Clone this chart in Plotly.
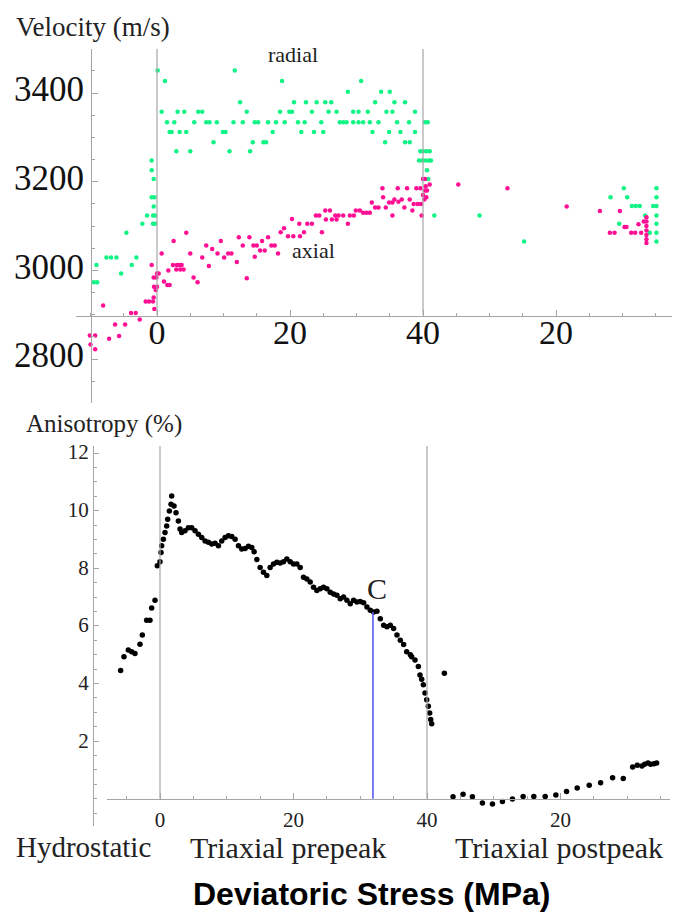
import plotly.graph_objects as go

# ---------------- DATA ----------------
# Stress coordinate: hydrostatic (<0), triaxial prepeak (0..40), postpeak (>40, continues to the right)
radial_x = [-9.5, -9.0, -9.1, -7.6, -6.9, -6.1, -5.4, -4.6, -3.8, -3.1, -2.2, -1.5, -0.6, -0.3, -0.6, -0.3,
            -0.5, -0.8, -0.4, -0.5, -0.8, -0.8,
            0.1, 1.2, 0.7, 1.5, 2.6, 3.1, 4.1, 1.9, 2.2, 3.4, 4.4, 2.9, 5.0, 5.6, 6.2, 6.8, 7.4, 7.9, 9.0, 8.5,
            9.9, 10.3, 10.9, 11.7, 12.5, 11.5, 12.9, 13.5,
            18.8, 30.7,
            28.7, 33.7, 35.0,
            20.6, 22.4, 24.0, 25.3, 26.2, 32.8, 35.7, 37.3,
            18.5, 19.9, 20.3, 23.3, 25.8, 27.0, 29.5, 30.3, 31.7, 34.5, 35.4, 38.8,
            14.7, 15.2, 16.7, 17.9, 19.2, 21.2, 22.2, 24.7, 27.5, 28.0, 28.5, 29.5, 30.3, 31.0, 32.0, 33.3,
            36.1, 37.9, 40.3, 40.7,
            14.4, 16.0, 16.4, 34.3, 37.3, 38.0,
            17.4, 21.7, 23.6, 25.0, 32.4, 34.9, 36.6, 38.8,
            14.0, 39.6, 40.0, 40.5, 41.0,
            39.4, 39.9, 40.4, 40.9, 41.2,
            40.6, 40.8,
            41.7, 48.5, 55.2, 68.2, 70.2, 70.7, 71.4, 72.0, 72.6, 73.4, 69.5, 74.1, 74.6,
            75.1, 75.1, 75.1, 75.1, 75.1, 75.1, 75.1]
radial_v = [2973, 2973, 3012, 3029, 3029, 3029, 2993, 3085, 3012, 3029, 3105, 3124, 3105, 3105, 3124, 3124,
            3144, 3165, 3165, 3206, 3226, 3248,
            3451, 3427, 3358, 3334, 3334, 3358, 3358, 3312, 3312, 3312, 3312, 3269, 3269, 3334, 3358, 3358, 3334, 3334, 3334, 3289,
            3312, 3312, 3269, 3451, 3379, 3334, 3334, 3358,
            3427, 3427,
            3403, 3403, 3403,
            3379, 3379, 3379, 3379, 3379, 3379, 3379, 3379,
            3358, 3358, 3358, 3358, 3358, 3358, 3358, 3358, 3358, 3358, 3358, 3358,
            3334, 3334, 3334, 3334, 3334, 3334, 3334, 3334, 3334, 3334, 3334, 3334, 3334, 3334, 3334, 3334,
            3334, 3334, 3334, 3334,
            3289, 3289, 3289, 3289, 3289, 3289,
            3312, 3312, 3312, 3312, 3312, 3312, 3312, 3312,
            3269, 3269, 3269, 3269, 3269,
            3248, 3248, 3248, 3248, 3248,
            3226, 3206,
            3124, 3124, 3065, 3165, 3185, 3165, 3145, 3145, 3145, 3124, 3105, 3085, 3145,
            3185, 3165, 3145, 3124, 3105, 3085, 3065]

axial_x = [-10.1, -9.3, -10.0, -9.3, -8.1, -7.2, -6.3, -5.7, -4.8, -3.9, -3.2, -2.6, -0.8, -1.7, -1.2, -0.6,
           -0.5, -0.4, -0.45, 0.0, -0.5, -0.1, -0.2, 0.0, 0.25,
           0.7, 1.05, 1.55, 1.9, 1.7, 2.5, 2.4, 3.0, 3.4, 3.7, 2.9, 3.5, 4.0, 4.4, 5.0, 5.5, 6.1, 6.8, 7.4, 7.8,
           8.3, 9.1, 9.6, 10.1, 10.7, 11.2, 12.0, 12.3, 12.9, 13.5, 13.9, 14.5, 15.0, 14.7, 15.5, 16.2, 15.8,
           16.7, 17.2, 17.7, 18.2, 18.6, 19.1, 19.7, 20.5, 21.5, 20.3, 21.4, 22.1, 22.6, 23.3, 23.9, 24.4, 24.8,
           25.3, 26.0, 25.4, 26.3, 26.8, 27.3, 28.0, 27.0, 28.7, 29.0, 29.6, 29.9, 30.5, 31.0, 31.5, 32.0, 32.3,
           32.8, 33.3, 33.9, 34.0, 34.4, 34.9, 35.4, 35.4, 36.2, 35.7, 36.3, 36.8, 37.2, 37.6, 38.0, 38.6, 38.4,
           39.0, 39.6, 39.2, 39.7, 39.8, 40.3, 40.3, 40.6, 41.0, 40.0, 40.4, 40.0, 40.2, 40.5,
           45.3, 52.7, 61.6, 66.6, 69.6, 70.3, 70.6, 68.1, 68.8, 71.3, 71.9, 72.8, 72.4, 73.2,
           73.6, 73.6, 73.6, 73.6, 73.6, 73.6, 73.6]
axial_v = [2853, 2853, 2833, 2822, 2921, 2846, 2878, 2852, 2878, 2904, 2904, 2889, 3012, 2930, 2930, 2930,
           2939, 2913, 2963, 2963, 2984, 2984, 2956, 2993, 2993,
           3038, 2975, 2967, 2967, 3000, 3066, 3012, 3012, 3012, 3012, 3002, 3002, 3002, 3085, 3038, 2984, 2973, 3029, 3056, 3010,
           3048, 3038, 3066, 3029, 3038, 3038, 3019, 3075, 3056, 2982, 3075, 3056, 3056, 3031, 3045, 3045, 3066,
           3075, 3056, 3056, 3038, 3086, 3095, 3077, 3077, 3077, 3116, 3105, 3086, 3105, 3105, 3124, 3124, 3086,
           3135, 3135, 3115, 3115, 3124, 3124, 3124, 3115, 3105, 3124, 3124, 3135, 3135, 3130, 3130, 3130, 3153,
           3142, 3142, 3185, 3165, 3142, 3153, 3153, 3124, 3185, 3160, 3155, 3160, 3142, 3185, 3160, 3150, 3135,
           3185, 3185, 3150, 3150, 3124, 3206, 3180, 3180, 3194, 3206, 3190, 3170, 3160, 3165,
           3194, 3185, 3144, 3134, 3134, 3098, 3098, 3085, 3085, 3085, 3085, 3085, 3104, 3110,
           3120, 3110, 3100, 3090, 3080, 3070, 3062]

aniso_x = [-5.9, -5.4, -4.75, -4.25, -3.75, -3.0, -2.65, -2.0, -1.5, -1.25, -0.75, -0.4, 0.0, 0.15, 0.25,
           0.5, 0.75, 1.0, 1.15, 1.4, 1.65, 1.75, 2.1, 2.4, 2.75, 3.0, 3.25,
           3.75, 4.25, 4.75, 5.25, 5.75, 6.25, 6.75, 7.25, 7.75, 8.25, 8.75, 9.25, 9.75, 10.25, 10.75, 11.25,
           11.75, 12.25, 12.75, 13.25, 13.75, 14.1, 14.5, 15.0, 15.5, 16.0, 16.5, 17.0, 17.5, 18.0, 18.5, 19.0,
           19.5, 20.0, 20.5, 21.0, 21.5, 22.0, 22.5, 23.0, 23.5, 24.0, 24.5, 25.0, 25.5, 26.0, 26.5, 27.0, 27.5,
           28.0, 28.5, 29.0, 29.5, 30.0, 30.5, 31.0, 31.5, 32.0, 32.5, 33.0, 33.5, 34.0, 34.5, 35.0, 35.5,
           36.0, 36.5, 36.95, 37.5, 37.7, 38.2, 38.7, 38.95, 39.2, 39.45, 39.7, 39.95, 40.2, 40.4, 40.55, 40.7,
           42.6,
           43.9, 45.4, 46.8, 48.3, 49.8, 51.3, 52.8, 54.4, 56.0, 57.7, 59.3, 60.9, 62.5, 64.3, 66.0, 67.8, 69.4,
           70.8, 71.5, 72.2, 72.6, 73.1, 73.5, 74.0, 74.4]
aniso_v = [4.45, 4.93, 5.16, 5.10, 5.04, 5.36, 5.68, 6.2, 6.2, 6.62, 6.89, 8.09, 8.23, 8.55, 8.78,
           9.01, 9.24, 9.47, 9.7, 9.99, 10.22, 10.51, 10.16, 9.93, 9.64, 9.36, 9.24,
           9.30, 9.41, 9.41, 9.30, 9.18, 9.07, 8.95, 8.90, 8.84, 8.87, 8.78, 8.95, 9.07, 9.13, 9.10, 9.01,
           8.78, 8.67, 8.69, 8.76, 8.72, 8.57, 8.30, 8.03, 7.86, 7.75, 8.03, 8.15, 8.21, 8.18, 8.23, 8.32,
           8.23, 8.15, 8.15, 8.03, 7.69, 7.63, 7.52, 7.34, 7.23, 7.29, 7.34, 7.29, 7.17, 7.11, 7.06, 6.94, 7.00,
           6.89, 6.77, 6.89, 6.83, 6.85, 6.80, 6.66, 6.54, 6.48, 6.51, 6.25, 6.02, 5.97, 6.02, 5.91, 5.68,
           5.50, 5.35, 5.10, 5.00, 4.93, 4.82, 4.59, 4.30, 4.15, 3.96, 3.67, 3.44, 3.21, 2.98, 2.75, 2.60,
           4.36,
           0.07, 0.16, 0.07, -0.15, -0.18, -0.09, -0.01, 0.08, 0.08, 0.08, 0.13, 0.25, 0.37, 0.47, 0.56, 0.73, 0.70,
           1.10, 1.16, 1.14, 1.20, 1.24, 1.20, 1.22, 1.24]

stage_bounds = [0, 40]            # hydrostatic/prepeak and prepeak/postpeak boundaries
point_c = (31.9, 6.48)            # stress and anisotropy at point C

x_tickvals = [0, 20, 40, 60]
x_ticktext = ["0", "20", "40", "20"]
vel_tickvals = [2800, 3000, 3200, 3400]
ani_tickvals = [2, 4, 6, 8, 10, 12]

GREEN = "#12F386"
PINK = "#FF0F93"
AX = "#A6A6A6"
SERIF = "Liberation Serif"

fig = go.Figure()
fig.add_trace(go.Scatter(x=radial_x, y=radial_v, mode="markers", xaxis="x", yaxis="y",
                         marker=dict(color=GREEN, size=4.5), name="radial"))
fig.add_trace(go.Scatter(x=axial_x, y=axial_v, mode="markers", xaxis="x", yaxis="y",
                         marker=dict(color=PINK, size=4.5), name="axial"))
fig.add_trace(go.Scatter(x=aniso_x, y=aniso_v, mode="markers", xaxis="x2", yaxis="y2",
                         marker=dict(color="black", size=5.5), name="anisotropy"))

W, H = 676, 913
common_x = dict(showgrid=False, zeroline=False, showline=True, linecolor=AX, linewidth=1,
                ticks="inside", tickcolor=AX, tickmode="array", tickvals=x_tickvals, ticktext=x_ticktext,
                ticklen=6)

fig.update_layout(
    width=W, height=H, margin=dict(l=0, r=0, t=0, b=0),
    paper_bgcolor="white", plot_bgcolor="rgba(0,0,0,0)", showlegend=False,
    xaxis=dict(**common_x, domain=[76 / W, 672 / W], range=[-12.18, 77.44], anchor="free",
               position=1 - 311.7 / H, tickfont=dict(family=SERIF, size=34, color="#111"),
               ticklabelstandoff=-13,
               minor=dict(dtick=5, tick0=0, ticks="inside", ticklen=3, tickcolor=AX)),
    yaxis=dict(showgrid=False, zeroline=False, showline=True, linecolor=AX, linewidth=1,
               domain=[1 - 400 / H, 1 - 43 / H], range=[2700, 3500], anchor="free", position=91 / W,
               ticks="inside", tickcolor=AX, ticklen=6, tickmode="array", tickvals=vel_tickvals,
               tickfont=dict(family=SERIF, size=35, color="#111"), ticklabelshift=-4,
               minor=dict(dtick=50, tick0=0, ticks="inside", ticklen=3, tickcolor=AX)),
    xaxis2=dict(**common_x, domain=[107 / W, 670 / W], range=[-7.94, 76.4], anchor="free",
                position=1 - 798 / H, tickfont=dict(family=SERIF, size=21, color="#222"),
                ticklabelstandoff=2,
                minor=dict(dtick=5, tick0=0, ticks="inside", ticklen=3, tickcolor=AX)),
    yaxis2=dict(showgrid=False, zeroline=False, showline=True, linecolor=AX, linewidth=1,
                domain=[1 - 825 / H, 1 - 443 / H], range=[-0.93, 12.24], anchor="free", position=93 / W,
                ticks="inside", tickcolor=AX, ticklen=5, tickmode="array", tickvals=ani_tickvals,
                tickfont=dict(family=SERIF, size=21, color="#222"), ticklabelshift=-1,
                minor=dict(dtick=0.5, tick0=0, ticks="inside", ticklen=3, tickcolor=AX)),
)

shapes = []
for b in stage_bounds:
    shapes.append(dict(type="line", xref="x", yref="y", x0=b, x1=b, y0=2900, y1=3500,
                       line=dict(color=AX, width=1.2)))
    shapes.append(dict(type="line", xref="x2", yref="y2", x0=b, x1=b, y0=0, y1=12.24,
                       line=dict(color=AX, width=1.2)))
shapes.append(dict(type="line", xref="x2", yref="y2", x0=point_c[0], x1=point_c[0], y0=0, y1=point_c[1],
                   line=dict(color="#5B5BF5", width=1.6)))
fig.update_layout(shapes=shapes)

def txt(s, x, y, size, family=SERIF, color="#222", bold=False):
    fig.add_annotation(text=f"<b>{s}</b>" if bold else s, x=x / W, y=1 - y / H, xref="paper", yref="paper",
                       showarrow=False, xanchor="center", yanchor="middle",
                       font=dict(family=family, size=size, color=color))

txt("Velocity (m/s)", 93, 21, 27)
txt("radial", 293, 49, 22)
txt("axial", 313, 246, 22)
txt("Anisotropy (%)", 104, 421, 25)
txt("C", 377, 586, 30)
txt("Hydrostatic", 83, 847, 29)
txt("Triaxial prepeak", 288, 847, 30)
txt("Triaxial postpeak", 559, 847, 30)
txt("Deviatoric Stress (MPa)", 371, 894, 32, family="Liberation Sans", color="black", bold=True)

fig.write_html("out.html")
